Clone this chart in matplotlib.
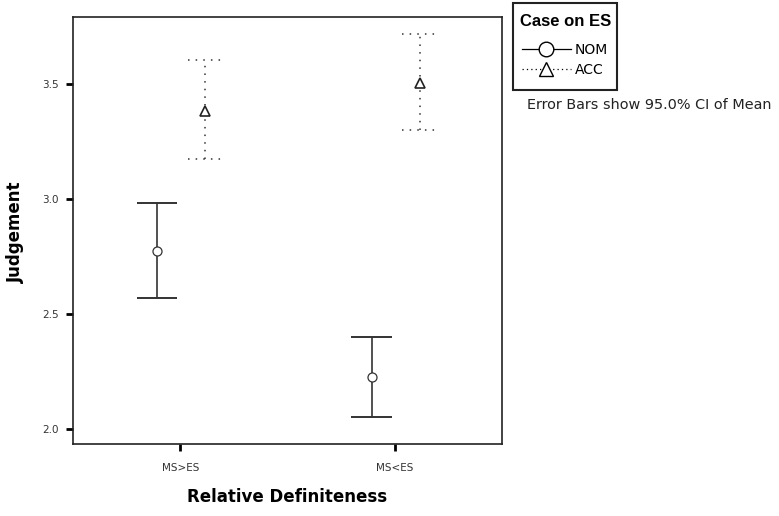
import numpy as np
import matplotlib
matplotlib.use('Agg')
import matplotlib.pyplot as plt
from matplotlib.lines import Line2D
from matplotlib.patches import Rectangle

categories = ['MS>ES', 'MS<ES']
nom_mean = [2.775, 2.227]
nom_lo = [2.571, 2.051]
nom_hi = [2.981, 2.401]
acc_mean = [3.38, 3.503]
acc_lo = [3.173, 3.297]
acc_hi = [3.604, 3.717]
yticks = [2.0, 2.5, 3.0, 3.5]

plt.rcParams['font.family'] = ['DejaVu Sans']

fig = plt.figure(figsize=(7.79, 5.16), dpi=100)
ax = fig.add_axes([73 / 779, 1 - 444 / 516, 429 / 779, 427 / 516])

x = np.arange(len(categories))
x_nom = x - 0.108
x_acc = x + 0.116

# NOM: solid bars, open circles
ax.vlines(x_nom, nom_lo, nom_hi, color='#222222', lw=1.1)
ax.hlines(nom_lo, x_nom - 0.095, x_nom + 0.095, color='#333333', lw=1.4)
ax.hlines(nom_hi, x_nom - 0.095, x_nom + 0.095, color='#333333', lw=1.4)
ax.plot(x_nom, nom_mean, 'o', mfc='white', mec='#333333', ms=6.5, mew=0.9,
        linestyle='none', zorder=3)

# ACC: dotted bars, open triangles
dot = (0, (1, 4))
ax.vlines(x_acc, acc_lo, acc_hi, color='#333333', lw=1.1, linestyles=[dot])
ax.hlines(acc_lo, x_acc - 0.08, x_acc + 0.08, color='#333333', lw=1.1, linestyles=[dot])
ax.hlines(acc_hi, x_acc - 0.08, x_acc + 0.08, color='#333333', lw=1.1, linestyles=[dot])
ax.plot(x_acc, acc_mean, '^', mfc='white', mec='#222222', ms=6.5, mew=1.2,
        linestyle='none', zorder=3)

ax.set_xlim(-0.5, 1.5)
ax.set_ylim(1.935, 3.79)
ax.set_xticks(x)
ax.set_xticklabels(categories)
ax.set_yticks(yticks)
ax.set_yticklabels(['%.1f' % v for v in yticks])
ax.tick_params(axis='both', direction='out', length=5, width=2, labelsize=7.5,
               labelcolor='#333333')
ax.tick_params(axis='x', pad=9)
ax.tick_params(axis='y', pad=5)

for s in ax.spines.values():
    s.set_linewidth(1.2)
    s.set_color('#222222')

fig.text(287 / 779, 1 - 497 / 516, 'Relative Definiteness', fontsize=12,
         fontweight='bold', ha='center', va='center')
fig.text(16 / 779, 1 - 232 / 516, 'Judgement', fontsize=12, fontweight='bold',
         ha='center', va='center', rotation=90)

# legend: frame, title and entries
fig.patches.append(Rectangle((513 / 779, 1 - 90 / 516), 104 / 779, 87 / 516,
                             transform=fig.transFigure, fill=False,
                             edgecolor='#222222', lw=1.5))
fig.text(566 / 779, 1 - 21 / 516, 'Case on ES', fontsize=12, fontweight='bold',
         ha='center', va='center', family='Liberation Sans')
handles = [
    Line2D([], [], color='black', lw=0.9, marker='o', mfc='white', mec='black', ms=10.5),
    Line2D([], [], color='black', lw=0.9, linestyle=(0, (1, 2.5)), marker='^',
           mfc='white', mec='black', ms=10.5),
]
fig.legend(handles, ['NOM', 'ACC'], loc='upper left',
           bbox_to_anchor=(522 / 779, 1 - 43 / 516), frameon=False,
           fontsize=10, handlelength=3.5, borderpad=0, labelspacing=0.4,
           handletextpad=0.3, borderaxespad=0)

fig.text(527 / 779, 1 - 105 / 516, 'Error Bars show 95.0% CI of Mean',
         fontsize=10.4, va='center', ha='left', color='#222222')

fig.savefig('out.png', dpi=100)
